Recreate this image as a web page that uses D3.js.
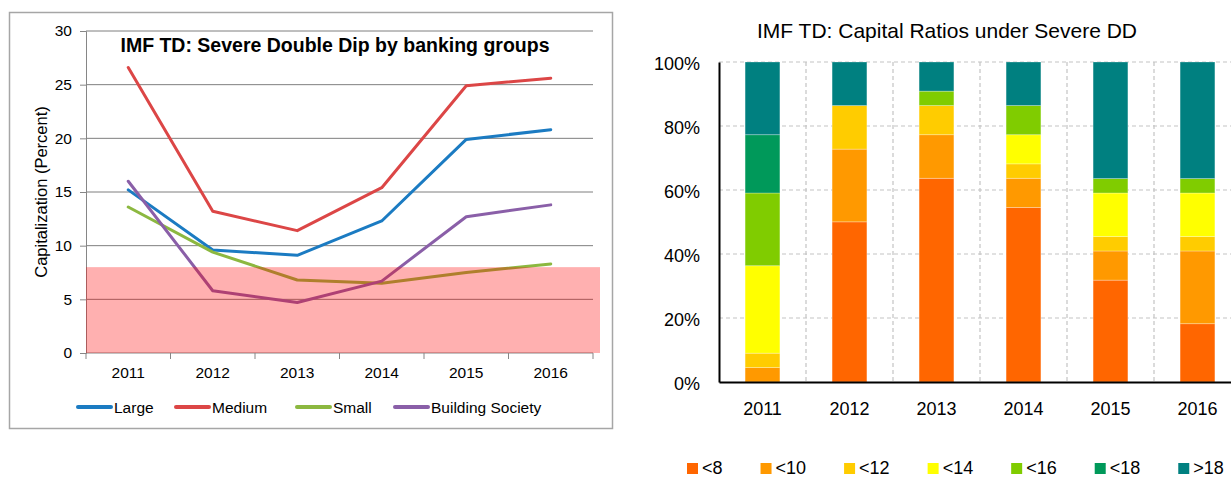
<!DOCTYPE html>
<html>
<head>
<meta charset="utf-8">
<script src="https://cdn.jsdelivr.net/npm/d3@7"></script>
<style>
  body { margin: 0; background: #fff; }
  svg { display: block; font-family: Arial, "Liberation Sans", sans-serif; }
</style>
</head>
<body>
<script>
// Datos del grafico de lineas
const years = ["2011", "2012", "2013", "2014", "2015", "2016"];
const largeVals = [15.2, 9.6, 9.1, 12.3, 19.9, 20.8];
const mediumVals = [26.6, 13.2, 11.4, 15.4, 24.9, 25.6];
const smallVals = [13.6, 9.4, 6.8, 6.5, 7.5, 8.3];
const buildingVals = [16.0, 5.8, 4.7, 6.7, 12.7, 13.8];
const lineNames = ["Large", "Medium", "Small", "Building Society"];
const yTicksLeft = [0, 5, 10, 15, 20, 25, 30];
const thresholdBand = 8;

// Datos de barras apiladas (porcentaje de bancos)
const ratioBuckets = ["<8", "<10", "<12", "<14", "<16", "<18", ">18"];
const lt8 = [0, 50.0, 63.6, 54.5, 31.8, 18.2];
const lt10 = [4.5, 22.7, 13.6, 9.1, 9.1, 22.7];
const lt12 = [4.5, 13.6, 9.1, 4.5, 4.5, 4.5];
const lt14 = [27.3, 0, 0, 9.1, 13.6, 13.6];
const lt16 = [22.7, 0, 4.5, 9.1, 4.5, 4.5];
const lt18 = [18.2, 0, 0, 0, 0, 0];
const gt18 = [22.7, 13.6, 9.1, 13.6, 36.4, 36.4];
const pctTicks = [0, 20, 40, 60, 80, 100];

const W = 1231, H = 477;
const svg = d3.select("body").append("svg")
    .attr("width", W)
    .attr("height", H);

// ---------------- Grafico izquierdo ----------------
const lineColors = ["#1b7bc2", "#dc4646", "#8cb840", "#8a5fa8"];
const series = [largeVals, mediumVals, smallVals, buildingVals];

svg.append("rect")
    .attr("x", 9.5).attr("y", 12.5)
    .attr("width", 603).attr("height", 416)
    .attr("fill", "#fff")
    .attr("stroke", "#a6a6a6")
    .attr("stroke-width", 1.5);

const xL = d3.scaleBand().domain(years).range([86, 593]);
const yL = d3.scaleLinear().domain([0, 30]).range([353, 31]);
const cx = d => xL(d) + xL.bandwidth() / 2;

// Lineas de rejilla
svg.append("g")
    .selectAll("line")
    .data(yTicksLeft.filter(d => d > 0))
    .join("line")
    .attr("x1", 86).attr("x2", 593)
    .attr("y1", d => yL(d)).attr("y2", d => yL(d))
    .attr("stroke", "#7f7f7f")
    .attr("stroke-width", 1);

// Eje Y
const yAxisL = d3.axisLeft(yL).tickValues(yTicksLeft).tickSize(6).tickPadding(8);
const gyL = svg.append("g")
    .attr("transform", "translate(86,0)")
    .call(yAxisL);
gyL.select(".domain").attr("stroke", "#868686");
gyL.selectAll(".tick line").attr("stroke", "#868686");
gyL.selectAll("text")
    .attr("font-size", "15.5px")
    .attr("font-family", "Arial, 'Liberation Sans', sans-serif")
    .attr("fill", "#000");

// Eje X
const gxL = svg.append("g")
    .attr("transform", "translate(0,353)");
gxL.append("line")
    .attr("x1", 86).attr("x2", 593)
    .attr("stroke", "#868686");
gxL.selectAll("line.tk")
    .data(d3.range(years.length + 1))
    .join("line")
    .attr("class", "tk")
    .attr("x1", i => 86 + i * xL.step())
    .attr("x2", i => 86 + i * xL.step())
    .attr("y1", 0).attr("y2", 6)
    .attr("stroke", "#868686");
gxL.selectAll("text")
    .data(years)
    .join("text")
    .attr("x", d => cx(d))
    .attr("y", 25)
    .attr("text-anchor", "middle")
    .attr("font-size", "15.5px")
    .text(d => d);

// Lineas
const lineGen = d3.line()
    .x((d, i) => cx(years[i]))
    .y(d => yL(d));

svg.append("g")
    .selectAll("path")
    .data(series)
    .join("path")
    .attr("d", d => lineGen(d))
    .attr("fill", "none")
    .attr("stroke", (d, i) => lineColors[i])
    .attr("stroke-width", 3)
    .attr("stroke-linejoin", "round")
    .attr("stroke-linecap", "round");

// Banda roja (capital bajo umbral)
svg.append("rect")
    .attr("x", 86)
    .attr("y", yL(thresholdBand))
    .attr("width", 600 - 86)
    .attr("height", yL(0) - yL(thresholdBand))
    .attr("fill", "#ff0000")
    .attr("fill-opacity", 0.31);

// Titulo
svg.append("text")
    .attr("x", 335)
    .attr("y", 52)
    .attr("text-anchor", "middle")
    .attr("font-size", "19.5px")
    .attr("font-weight", "bold")
    .text("IMF TD: Severe Double Dip by banking groups");

// Titulo eje Y
svg.append("text")
    .attr("transform", "translate(47,192) rotate(-90)")
    .attr("text-anchor", "middle")
    .attr("font-size", "16.5px")
    .text("Capitalization (Percent)");

// Leyenda
const legendX = [78, 176, 297, 395];
const legL = svg.append("g");
lineNames.forEach((name, i) => {
    legL.append("line")
        .attr("x1", legendX[i]).attr("x2", legendX[i] + 33)
        .attr("y1", 407).attr("y2", 407)
        .attr("stroke", lineColors[i])
        .attr("stroke-width", 4)
        .attr("stroke-linecap", "round");
    legL.append("text")
        .attr("x", legendX[i] + 36)
        .attr("y", 412.5)
        .attr("font-size", "15.5px")
        .text(name);
});

// ---------------- Grafico derecho ----------------
const bucketColors = ["#ff6600", "#ff9900", "#ffcc00", "#ffff00", "#80cc00", "#00995a", "#008080"];
const bucketVals = [lt8, lt10, lt12, lt14, lt16, lt18, gt18];

const table = years.map((y, i) => {
    const row = { year: y };
    ratioBuckets.forEach((b, j) => { row[b] = bucketVals[j][i]; });
    return row;
});

const stack = d3.stack().keys(ratioBuckets).offset(d3.stackOffsetExpand);
const stacked = stack(table);

const xR = d3.scaleBand().domain(years).range([719, 1241])
    .paddingInner(0.6).paddingOuter(0.3);
const yR = d3.scaleLinear().domain([0, 1]).range([382, 62]);

// Rejilla horizontal
svg.append("g")
    .selectAll("line")
    .data(pctTicks.filter(d => d > 0))
    .join("line")
    .attr("x1", 719).attr("x2", W)
    .attr("y1", d => yR(d / 100)).attr("y2", d => yR(d / 100))
    .attr("stroke", "#c4c4c4")
    .attr("stroke-width", 1.2)
    .attr("stroke-dasharray", "4,3");

// Rejilla vertical
svg.append("g")
    .selectAll("line")
    .data(d3.range(1, years.length))
    .join("line")
    .attr("x1", i => 719 + i * xR.step())
    .attr("x2", i => 719 + i * xR.step())
    .attr("y1", yR(1)).attr("y2", yR(0))
    .attr("stroke", "#c4c4c4")
    .attr("stroke-width", 1.2)
    .attr("stroke-dasharray", "4,3");

// Barras
svg.append("g")
    .selectAll("g")
    .data(stacked)
    .join("g")
    .attr("fill", (d, i) => bucketColors[i])
    .selectAll("rect")
    .data(d => d.filter(s => s[1] - s[0] > 0))
    .join("rect")
    .attr("x", d => xR(d.data.year))
    .attr("y", d => yR(d[1]))
    .attr("width", xR.bandwidth())
    .attr("height", d => yR(d[0]) - yR(d[1]))
    .attr("stroke", "#ffffff")
    .attr("stroke-opacity", 0.35)
    .attr("stroke-width", 0.8);

// Eje Y
const yAxisR = d3.axisLeft(yR)
    .tickValues(pctTicks.map(d => d / 100))
    .tickFormat(d3.format(".0%"))
    .tickSize(0).tickPadding(19);
const gyR = svg.append("g")
    .attr("transform", "translate(719,0)")
    .call(yAxisR);
gyR.select(".domain").attr("stroke", "#000").attr("stroke-width", 2);
gyR.selectAll("text")
    .attr("font-size", "18px")
    .attr("font-family", "Arial, 'Liberation Sans', sans-serif")
    .attr("fill", "#000")
    .attr("dy", "0.4em");

// Eje X
const xAxisR = d3.axisBottom(xR).tickSize(0).tickPadding(20);
const gxR = svg.append("g")
    .attr("transform", "translate(0,382)")
    .call(xAxisR);
gxR.select(".domain").attr("stroke", "#000").attr("stroke-width", 2);
gxR.selectAll("text")
    .attr("font-size", "18px")
    .attr("font-family", "Arial, 'Liberation Sans', sans-serif")
    .attr("fill", "#000");

// Titulo
svg.append("text")
    .attr("x", 947)
    .attr("y", 38)
    .attr("text-anchor", "middle")
    .attr("font-size", "21px")
    .text("IMF TD: Capital Ratios under Severe DD");

// Leyenda
const legR = svg.append("g");
let lx = 687;
ratioBuckets.forEach((b, i) => {
    legR.append("rect")
        .attr("x", lx).attr("y", 463)
        .attr("width", 11).attr("height", 11)
        .attr("fill", bucketColors[i]);
    const t = legR.append("text")
        .attr("x", lx + 15)
        .attr("y", 474)
        .attr("font-size", "18px")
        .text(b);
    lx += 15 + t.node().getComputedTextLength() + 38;
});
</script>
</body>
</html>
